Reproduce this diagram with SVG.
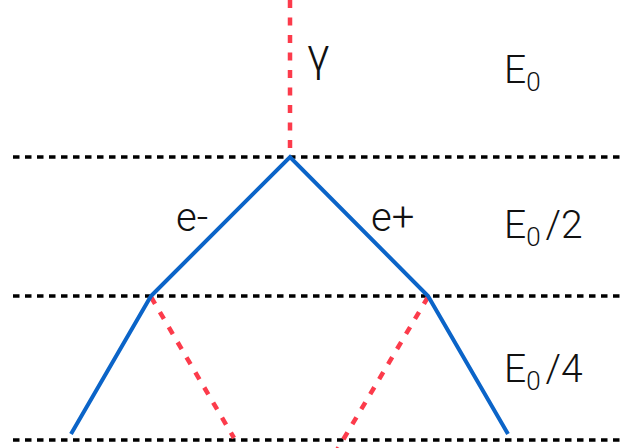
<svg xmlns="http://www.w3.org/2000/svg" width="621" height="448" viewBox="0 0 621 448">
<style>
.lvl{stroke:#000;stroke-width:3.5;stroke-dasharray:6.5 5.5;fill:none}
.ph{stroke:#fc3b4b;stroke-width:4.5;stroke-dasharray:8 9.5;fill:none}
.el{stroke:#0b64c8;stroke-width:4;fill:none;stroke-linejoin:miter}
.t{font-family:"Helvetica Neue",Roboto,"Liberation Sans",sans-serif;font-weight:300;fill:#111}
</style>
<rect width="621" height="448" fill="#fff"/>
<g id="levels">
<line class="lvl" x1="13" y1="157" x2="621" y2="157"/>
<line class="lvl" x1="13" y1="296" x2="621" y2="296"/>
<line class="lvl" x1="13" y1="440" x2="621" y2="440"/>
</g>
<g id="connectors">
<line class="ph" x1="290" y1="0" x2="290" y2="157"/>
<line class="ph" x1="151" y1="297" x2="234" y2="438"/>
<line class="ph" x1="428" y1="297" x2="337" y2="450"/>
<polyline class="el" points="71,434 151,296 290,157 428,296 508,434"/>
</g>
<g id="gamma"><text class="t" x="307" y="71" font-size="46" font-weight="400">γ</text></g>
<g id="e-minus"><text class="t" x="176" y="231" font-size="40">e-</text></g>
<g id="e-plus"><text class="t" x="371" y="231" font-size="40">e+</text></g>
<g id="E0"><text class="t" x="504" y="83" font-size="39">E<tspan font-size="26" dy="8">0</tspan></text></g>
<g id="E0-2"><text class="t" x="504" y="238" font-size="39">E<tspan font-size="26" dy="8">0</tspan><tspan dy="-8" dx="5">/2</tspan></text></g>
<g id="E0-4"><text class="t" x="504" y="382" font-size="39">E<tspan font-size="26" dy="8">0</tspan><tspan dy="-8" dx="5">/4</tspan></text></g>
</svg>
